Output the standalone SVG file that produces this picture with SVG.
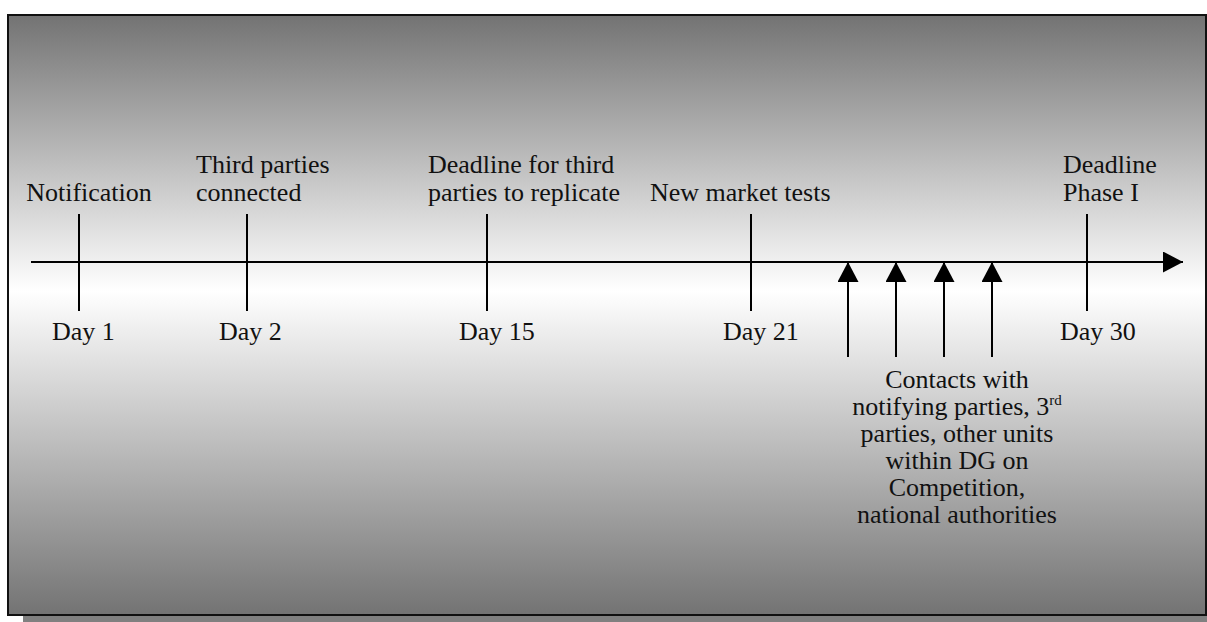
<svg xmlns="http://www.w3.org/2000/svg" width="1207" height="622" viewBox="0 0 1207 622">
<defs>
<linearGradient id="bg" x1="0" y1="15" x2="0" y2="615" gradientUnits="userSpaceOnUse">
<stop offset="0" stop-color="#737373"/>
<stop offset="0.46" stop-color="#ffffff"/>
<stop offset="1" stop-color="#737373"/>
</linearGradient>
<marker id="ah" markerWidth="20" markerHeight="21" refX="20" refY="10.5" orient="auto" markerUnits="userSpaceOnUse">
<path d="M0,0 L20,10.5 L0,21 Z" fill="#000"/>
</marker>
</defs>
<style>
.t{font-size:26px;fill:#111}
.c{text-anchor:middle}
.ln{stroke:#000;stroke-width:2;fill:none}
</style>
<rect x="23" y="22" width="1200" height="600" fill="#808080"/>
<rect x="8" y="15" width="1198" height="600" fill="url(#bg)" stroke="#111" stroke-width="2"/>
<g id="connectors">
<line class="ln" x1="31" y1="262" x2="1183" y2="262" marker-end="url(#ah)"/>
<line class="ln" x1="79" y1="214" x2="79" y2="311"/>
<line class="ln" x1="247" y1="214" x2="247" y2="311"/>
<line class="ln" x1="487" y1="214" x2="487" y2="311"/>
<line class="ln" x1="751" y1="214" x2="751" y2="311"/>
<line class="ln" x1="1087" y1="214" x2="1087" y2="311"/>
<line class="ln" x1="848" y1="357" x2="848" y2="262" marker-end="url(#ah)"/>
<line class="ln" x1="896" y1="357" x2="896" y2="262" marker-end="url(#ah)"/>
<line class="ln" x1="944" y1="357" x2="944" y2="262" marker-end="url(#ah)"/>
<line class="ln" x1="992" y1="357" x2="992" y2="262" marker-end="url(#ah)"/>
</g>
<g class="t" font-family="Liberation Serif, Times New Roman, serif">
<g id="n1"><text x="89" y="201" class="c">Notification</text><text x="52" y="340">Day 1</text></g>
<g id="n2"><text x="196" y="173">Third parties</text><text x="196" y="201">connected</text><text x="219" y="340">Day 2</text></g>
<g id="n3"><text x="428" y="173">Deadline for third</text><text x="428" y="201">parties to replicate</text><text x="459" y="340">Day 15</text></g>
<g id="n4"><text x="650" y="201">New market tests</text><text x="723" y="340">Day 21</text></g>
<g id="n5"><text x="1063" y="173">Deadline</text><text x="1063" y="201">Phase I</text><text x="1060" y="340">Day 30</text></g>
<g id="n6">
<text x="957" y="388" class="c">Contacts with</text>
<text x="957" y="415" class="c">notifying parties, 3<tspan font-size="15" dy="-10">rd</tspan></text>
<text x="957" y="442" class="c">parties, other units</text>
<text x="957" y="469" class="c">within DG on</text>
<text x="957" y="496" class="c">Competition,</text>
<text x="957" y="523" class="c">national authorities</text>
</g>
</g>
</svg>
